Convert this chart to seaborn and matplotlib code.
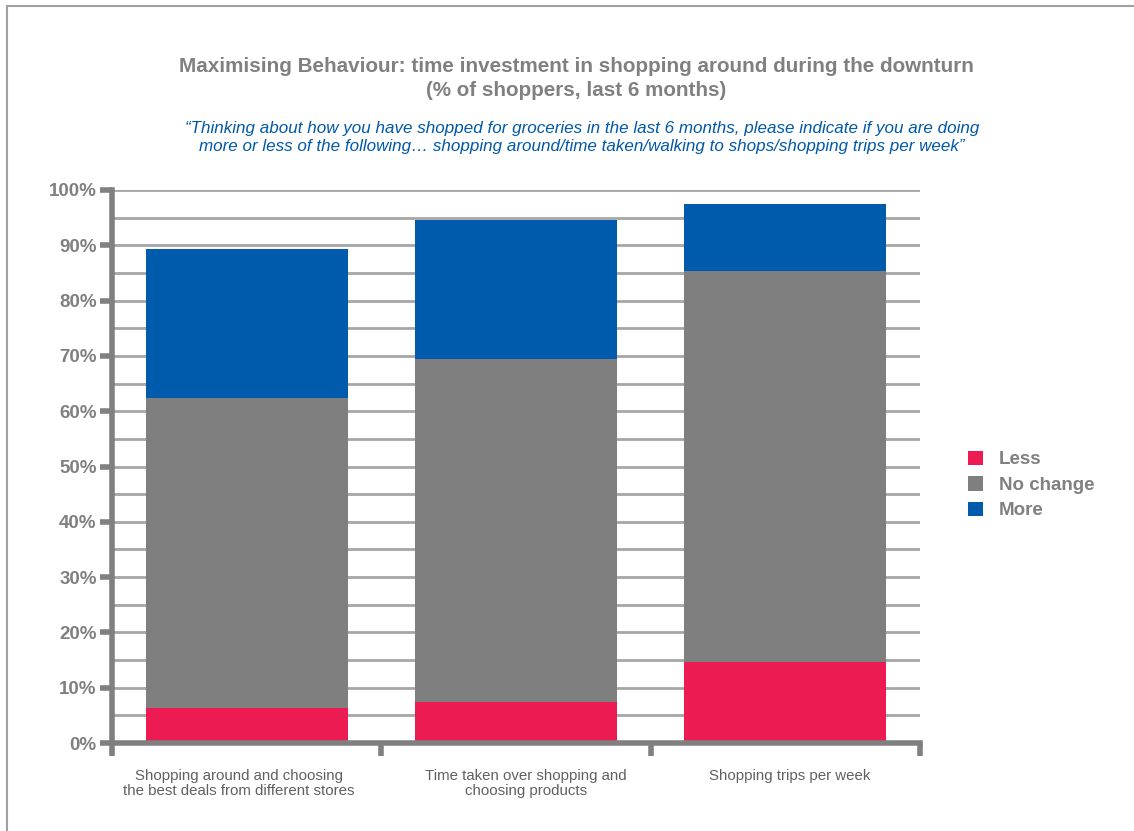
import matplotlib
matplotlib.use("Agg")
import matplotlib.pyplot as plt
import matplotlib.patches as mpatches
import matplotlib.transforms as mtransforms
from matplotlib.ticker import MultipleLocator, FixedLocator, NullFormatter
import numpy as np
import pandas as pd
import seaborn as sns

categories = [
    "Shopping around and choosing\nthe best deals from different stores",
    "Time taken over shopping and\nchoosing products",
    "Shopping trips per week",
]
less = [6.3, 7.4, 14.6]
no_change = [56.0, 62.0, 70.8]
more = [27.1, 25.2, 12.1]

series_names = ["Less", "No change", "More"]
colors = {"Less": "#EC1B52", "No change": "#7F7F7F", "More": "#005BAC"}
text_grey = "#808080"

sns.set_theme(style="white")
plt.rcParams["font.family"] = ["Liberation Sans", "DejaVu Sans"]

W, H = 1134, 831
fig = plt.figure(figsize=(W / 100, H / 100), dpi=100)
ax = fig.add_axes([112 / W, (H - 743) / H, (920 - 112) / W, (743 - 190) / H])

# cumulative tops for stacking
cum_less = np.array(less)
cum_nc = cum_less + np.array(no_change)
cum_more = cum_nc + np.array(more)

df = pd.DataFrame({
    "category": categories,
    "Less": cum_less,
    "No change": cum_nc,
    "More": cum_more,
})

for name in ["More", "No change", "Less"]:
    sns.barplot(data=df, x="category", y=name, color=colors[name], width=0.75,
                saturation=1, ax=ax, zorder=3, linewidth=0)

ax.set_xlim(-0.5, 2.5)
ax.set_ylim(0, 100)

# horizontal gridlines every 5%
for v in np.arange(5, 101, 5):
    ax.axhline(v, color="#A6A6A6", lw=2, zorder=1)

ax.yaxis.set_major_locator(MultipleLocator(10))
ax.set_yticklabels([f"{int(v)}%" for v in ax.get_yticks()])
ax.tick_params(axis="y", which="major", direction="out", length=9, width=4,
               color=text_grey, labelsize=13.5, labelcolor=text_grey, pad=2, left=True)
for lbl in ax.get_yticklabels():
    lbl.set_fontweight("bold")

ax.xaxis.set_minor_locator(FixedLocator([-0.5, 0.5, 1.5, 2.5]))
ax.xaxis.set_minor_formatter(NullFormatter())
ax.tick_params(axis="x", which="minor", direction="out", length=9, width=4,
               color=text_grey, bottom=True)
ax.tick_params(axis="x", which="major", length=0, labelsize=10.8,
               labelcolor="#606060", pad=19)
# small horizontal nudges for the category labels
for lbl, dx in zip(ax.get_xticklabels(), [-8, 10, 4.5]):
    lbl.set_linespacing(1.05)
    lbl.set_transform(lbl.get_transform() +
                      mtransforms.ScaledTranslation(dx / 100, 0, fig.dpi_scale_trans))
ax.set_xlabel("")
ax.set_ylabel("")

for side in ["top", "right"]:
    ax.spines[side].set_visible(False)
for side in ["left", "bottom"]:
    ax.spines[side].set_color(text_grey)
    ax.spines[side].set_linewidth(4)
    ax.spines[side].set_zorder(4)

# titles
fig.text(576 / W, 1 - 67 / H,
         "Maximising Behaviour: time investment in shopping around during the downturn",
         ha="center", va="center", fontsize=14.9, fontweight="bold", color=text_grey)
fig.text(576 / W, 1 - 90 / H, "(% of shoppers, last 6 months)",
         ha="center", va="center", fontsize=14.9, fontweight="bold", color=text_grey)
fig.text(582 / W, 1 - 128 / H,
         "\u201cThinking about how you have shopped for groceries in the last 6 months, please indicate if you are doing",
         ha="center", va="center", fontsize=12.25, fontstyle="italic", color="#0058A8")
fig.text(582 / W, 1 - 146 / H,
         "more or less of the following\u2026 shopping around/time taken/walking to shops/shopping trips per week\u201d",
         ha="center", va="center", fontsize=12.25, fontstyle="italic", color="#0058A8")

# legend
handles = [mpatches.Patch(facecolor=colors[n], edgecolor="none", label=n) for n in series_names]
leg = fig.legend(handles=handles, loc="center left", bbox_to_anchor=(955 / W, 1 - 485 / H),
                 frameon=False, fontsize=13.5, handlelength=0.8, handleheight=0.8,
                 handletextpad=0.85, labelspacing=0.42, borderpad=0.2)
for t in leg.get_texts():
    t.set_color(text_grey)
    t.set_fontweight("bold")

# outer frame
fig.add_artist(plt.Line2D([7 / W, 7 / W], [0, 1 - 6 / H], color="#A0A0A0", lw=1.5,
                          transform=fig.transFigure))
fig.add_artist(plt.Line2D([7 / W, 1], [1 - 6 / H, 1 - 6 / H], color="#A0A0A0", lw=1.5,
                          transform=fig.transFigure))

fig.savefig("out.png", dpi=100)
